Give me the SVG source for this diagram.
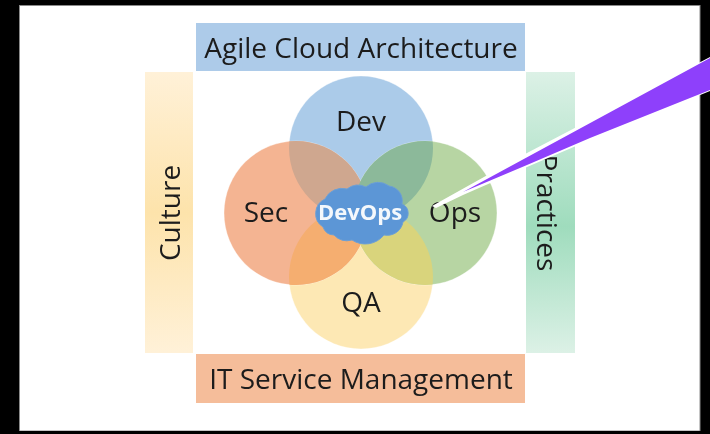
<svg xmlns="http://www.w3.org/2000/svg" width="710" height="434" viewBox="0 0 710 434">
<style>
.t{font-family:"Open Sans","Noto Sans",sans-serif;font-size:28px;fill:#1c1c1c;text-anchor:middle}
.c{font-family:"Open Sans","Noto Sans",sans-serif;font-size:28px;fill:#1c1c1c;text-anchor:middle}
.ln{stroke:#fff;stroke-opacity:.35;stroke-width:1}
</style>
<defs>
<filter id="soft" x="0" y="0" width="100%" height="100%"><feGaussianBlur stdDeviation="0.45"/></filter>
<linearGradient id="gy" x1="0" y1="0" x2="0" y2="1"><stop offset="0" stop-color="#fff1d8"/><stop offset=".5" stop-color="#fde3ab"/><stop offset="1" stop-color="#fff1d8"/></linearGradient>
<linearGradient id="gg" x1="0" y1="0" x2="0" y2="1"><stop offset="0" stop-color="#dcf1e6"/><stop offset=".55" stop-color="#9fdcbd"/><stop offset="1" stop-color="#dcf1e6"/></linearGradient>
<clipPath id="cd"><circle cx="361" cy="148" r="72"/></clipPath>
<clipPath id="cq"><circle cx="361" cy="277" r="72"/></clipPath>
</defs>
<rect width="710" height="434" fill="#000"/>
<g filter="url(#soft)">
<rect x="19.500" y="5.500" width="680.500" height="425.500" fill="#fff" stroke="#8a8a8a"/>
<g id="culture"><rect x="145" y="72" width="48" height="281" fill="url(#gy)"/><text class="t" transform="translate(180,213) rotate(-90)">Culture</text></g>
<g id="practices"><rect x="526" y="72" width="49" height="281" fill="url(#gg)"/><text class="t" transform="translate(537,213) rotate(90)">Practices</text></g>
<g id="architecture"><rect x="196" y="23" width="329" height="48" fill="#adcbe9"/><text class="t" x="361" y="58">Agile Cloud Architecture</text></g>
<g id="itsm"><rect x="196" y="354" width="329" height="49" fill="#f5bd9a"/><text class="t" x="361" y="389">IT Service Management</text></g>
<g id="dev"><circle cx="361" cy="148" r="72" fill="#abcbe9" class="ln"/></g>
<g id="qa"><circle cx="361" cy="277" r="72" fill="#fde8b4" class="ln"/></g>
<g id="sec"><circle cx="296" cy="213" r="72" fill="#f4b492" class="ln"/></g>
<g id="ops"><circle cx="425" cy="213" r="72" fill="#b7d5a3" class="ln"/></g>
<g id="overlaps">
<circle cx="296" cy="213" r="72" fill="#cfa78f" clip-path="url(#cd)"/>
<circle cx="425" cy="213" r="72" fill="#8cb99a" clip-path="url(#cd)"/>
<circle cx="296" cy="213" r="72" fill="#f5ae70" clip-path="url(#cq)"/>
<circle cx="425" cy="213" r="72" fill="#d9d47c" clip-path="url(#cq)"/>
</g>
<g id="labels">
<text class="c" x="361" y="131">Dev</text>
<text class="c" x="266" y="222">Sec</text>
<text class="c" x="455" y="222">Ops</text>
<text class="c" x="361" y="312">QA</text>
</g>
<g id="devops">
<path d="M323,227 A16,16 0 0 1 325,199 A19,19 0 0 1 347,189 A18,18 0 0 1 366,187 A18,18 0 0 1 389,186 A15,15 0 0 1 402,204 A10,10 0 0 1 403,222 A16,16 0 0 1 384,235 A24,24 0 0 1 352,240 A18,18 0 0 1 334,235 A12,12 0 0 1 323,227 Z" fill="#5b96d6" stroke="#6d9fd4" stroke-width="1"/>
<text x="360" y="220" font-family="'Open Sans','Noto Sans',sans-serif" font-size="22" font-weight="700" fill="#f4f8fc" text-anchor="middle">DevOps</text>
</g>
<g id="pointer">
<polygon points="710,57 590,120 527,153 432,206 436,208 463,195 527,167 590,140 710,91" fill="#fff"/>
<polygon points="710,58 463,192 527,165 590,138 710,90" fill="#8e3ffb"/>
</g>
</g>
</svg>
